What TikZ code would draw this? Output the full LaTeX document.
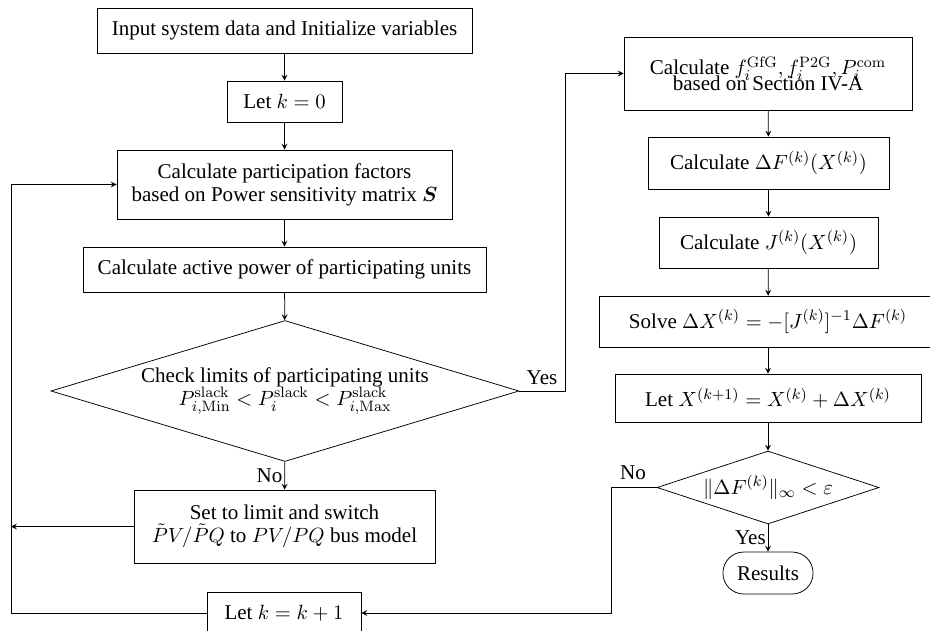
\documentclass[tikz,border=0pt]{standalone}
\usepackage{amsmath}
\usepackage[no-math]{fontspec}
\setmainfont{Liberation Serif}
\usetikzlibrary{shapes.geometric,arrows}
\begin{document}
\begin{tikzpicture}[x=0.532pt,y=-0.532pt,>=stealth,
  every node/.style={font=\fontsize{11.2}{12.2}\selectfont},
  box/.style={draw,rectangle,align=center,inner sep=1pt},
  dec/.style={draw,diamond,align=center,inner sep=-2pt,aspect=3.2},
  term/.style={draw,rectangle,rounded corners=11pt,align=center},
  lbl/.style={inner sep=0pt},
  arr/.style={->}]
\useasboundingbox (0,0) rectangle (930,630);
% left column
\node[box,minimum width=199.5pt,minimum height=24pt] (b1) at (284.5,30.5) {Input system data and Initialize variables};
\node[box,minimum width=61.2pt,minimum height=21.8pt] (b2) at (284.5,101.5) {Let $k=0$};
\node[box,minimum width=178.2pt,minimum height=36.7pt] (b3) at (284.5,184.5) {Calculate participation factors\\based on Power sensitivity matrix $\boldsymbol{S}$};
\node[box,minimum width=214.4pt,minimum height=24pt] (b4) at (284.5,269.5) {Calculate active power of participating units};
\node[dec,minimum width=249pt,minimum height=75pt] (d1) at (285,391) {Check limits of participating units\\$P_{i,\mathrm{Min}}^{\mathrm{slack}} < P_i^{\mathrm{slack}} < P_{i,\mathrm{Max}}^{\mathrm{slack}}$};
\node[box,minimum width=160.1pt,minimum height=38.8pt] (b5) at (284.5,526.5) {Set to limit and switch\\$\tilde{P}V/\tilde{P}Q$ to $PV/PQ$ bus model};
\node[box,minimum width=81.9pt,minimum height=21.8pt] (b6) at (284,613) {Let $k=k+1$};
% right column
\node[box,minimum width=153.2pt,minimum height=38.8pt] (r1) at (768,73.5) {Calculate $f_i^{\mathrm{GfG}}, f_i^{\mathrm{P2G}}, P_i^{\mathrm{com}}$\\[-4pt]based on Section IV-A};
\node[box,minimum width=128.2pt,minimum height=27.7pt] (r2) at (768.5,163) {Calculate $\Delta F^{(k)}(X^{(k)})$};
\node[box,minimum width=116.5pt,minimum height=27.1pt] (r3) at (768.5,242.5) {Calculate $J^{(k)}(X^{(k)})$};
\node[box,minimum width=179.8pt,minimum height=27.1pt] (r4) at (768,321.5) {Solve $\Delta X^{(k)} = -[J^{(k)}]^{-1}\Delta F^{(k)}$};
\node[box,minimum width=162.8pt,minimum height=25.5pt] (r5) at (768,398) {Let $X^{(k+1)} = X^{(k)} + \Delta X^{(k)}$};
\node[dec,aspect=3.04,minimum width=118.1pt,minimum height=38.8pt] (d2) at (768,487.5) {$\|\Delta F^{(k)}\|_\infty < \varepsilon$};
\node[term,minimum width=47.9pt,minimum height=22.3pt] (res) at (768,573) {Results};
% coordinates
\coordinate (yesc) at (565,391);
\coordinate (leftc) at (11,526.5);
\coordinate (loopx) at (11,613);
\coordinate (noc) at (611,487.5);
% connectors
\draw[arr] (b1) -- (b2);
\draw[arr] (b2) -- (b3);
\draw[arr] (b3) -- (b4);
\draw[arr] (b4) -- (d1);
\draw[arr] (d1) -- node[lbl,left=1pt,pos=0.5] (no1) {No} (b5);
\draw[arr] (d1.east) -- (yesc) |- (r1.west);
\node[lbl] (yes1) at (542,378) {Yes};
\draw[arr] (b5.west) -- (leftc);
\draw[arr] (b6.west) -- (loopx) |- (b3.west);
\draw[arr] (r1) -- (r2);
\draw[arr] (r2) -- (r3);
\draw[arr] (r3) -- (r4);
\draw[arr] (r4) -- (r5);
\draw[arr] (r5) -- (d2);
\draw[arr] (d2) -- node[lbl,left=1pt,pos=0.5] (yes2) {Yes} (res);
\draw[arr] (d2.west) -- (noc) |- (b6.east);
\node[lbl] (no2) at (633,473) {No};
\end{tikzpicture}
\end{document}
